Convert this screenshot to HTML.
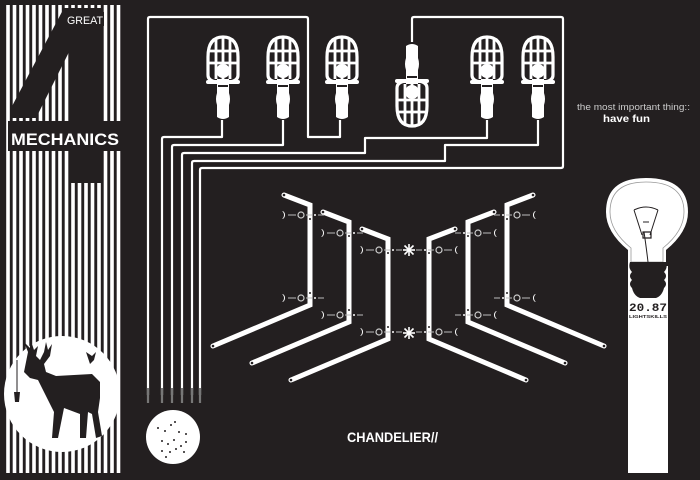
<!DOCTYPE html>
<html><head><meta charset="utf-8"><style>
html,body{margin:0;padding:0;background:#231f20;}
svg{display:block;}
</style></head><body>
<svg width="700" height="480" viewBox="0 0 700 480" xmlns="http://www.w3.org/2000/svg">
<defs>
<pattern id="st" x="5" y="0" width="6.5" height="10" patternUnits="userSpaceOnUse">
<rect x="1.2" y="0" width="3.6" height="10" fill="#fff"/>
</pattern>
<g id="lamp">
<path d="M-15,-22 Q-15,-42 0,-42 Q15,-42 15,-22 L15,-4 Q15,2 6,3 L-6,3 Q-15,2 -15,-4 Z" fill="none" stroke="#fff" stroke-width="3.2"/>
<path d="M-7,-40 V0 M0,-42 V0 M7,-40 V0 M-15,-28 H15 M-15,-16 H15" stroke="#fff" stroke-width="2.8"/>
<rect x="-17" y="1" width="34" height="4" rx="2" fill="#fff"/>
<circle cx="0" cy="-8" r="7" fill="#fff"/>
<path d="M-6,0 L-6,14 Q-8,20 -6,26 L-6,38 Q0,42 6,38 L6,26 Q8,20 6,14 L6,0 Z" fill="#fff"/>
<rect x="-5" y="6" width="10" height="2" fill="#231f20"/>
</g>
<g id="br">
<path d="M0,0 L26,10 L26,110 L-71,151" fill="none" stroke="#fff" stroke-width="5" stroke-linejoin="miter" stroke-linecap="round"/>
<circle cx="0" cy="0" r="1.3" fill="#231f20"/>
<circle cx="-71" cy="151" r="1.3" fill="#231f20"/>
<circle cx="26" cy="24" r="1" fill="#231f20"/><circle cx="26" cy="98" r="1" fill="#231f20"/>
</g>
<g id="conn">
<path d="M-4,-4 A5,5 0 0 1 -4,4 A3,4 0 0 0 -4,-4 Z" fill="#fff"/>
<line x1="2" y1="0" x2="10" y2="0" stroke="#bbb" stroke-width="1"/>
<circle cx="15" cy="0" r="3" fill="none" stroke="#ccc" stroke-width="1.2"/>
<line x1="20" y1="0" x2="26" y2="0" stroke="#bbb" stroke-width="1"/>
<circle cx="29" cy="0" r="1" fill="#fff"/>
<line x1="32" y1="0" x2="38" y2="0" stroke="#bbb" stroke-width="1"/>
</g>
<g id="ast" stroke="#fff" stroke-width="1.6">
<line x1="-6" y1="0" x2="6" y2="0"/><line x1="0" y1="-6" x2="0" y2="6"/>
<line x1="-4.5" y1="-4.5" x2="4.5" y2="4.5"/><line x1="-4.5" y1="4.5" x2="4.5" y2="-4.5"/>
</g>
</defs>

<!-- left panel -->
<rect x="5" y="5" width="117" height="468" fill="url(#st)"/>
<!-- the 4 -->
<rect x="70" y="8" width="33" height="175" fill="#231f20"/>
<polygon points="64,8 70,8 70,50 36,118 10,118 10,110" fill="#231f20"/>
<rect x="8" y="121" width="114" height="30" fill="#231f20"/>
<text x="11" y="145" font-family="Liberation Sans, sans-serif" font-weight="bold" font-size="17" fill="#fff" textLength="108" lengthAdjust="spacingAndGlyphs">MECHANICS</text>
<rect x="66" y="12" width="38" height="14" fill="#231f20"/>
<text x="67" y="24" font-family="Liberation Sans, sans-serif" font-size="11" fill="#fff" textLength="36" lengthAdjust="spacingAndGlyphs">GREAT</text>

<!-- deer circle -->
<circle cx="62" cy="394" r="58" fill="#fff"/>
<path d="M28,352 L24,342 L30,348 L30,338 L34,350 L38,346 L36,356 L40,360 L44,352 L46,342 L48,350 L52,344 L50,356 L44,364 L46,372 L56,376 L92,374 L100,382 L100,398 L98,412 L102,436 L96,438 L92,414 L88,412 L86,438 L80,438 L80,414 L64,408 L58,438 L52,438 L54,412 L46,396 L38,380 L30,378 L24,372 L26,362 Z" fill="#231f20"/>
<path d="M86,352 l6,4 l4,-4 l-2,8 l-4,4 z" fill="#231f20"/>
<line x1="17" y1="360" x2="17" y2="392" stroke="#231f20" stroke-width="1"/>
<path d="M14,392 h6 l-1,10 h-4 z" fill="#231f20"/>

<!-- wires -->
<g fill="none" stroke="#fff" stroke-width="2.2" stroke-linejoin="round">
<path d="M148,395 V19 Q148,17 150,17 H306 Q308,17 308,19 V137 H340 V120"/>
<path d="M162,395 V139 Q162,137 164,137 H222 V120"/>
<path d="M172,395 V147 Q172,145 174,145 H283 V120"/>
<path d="M182,395 V155 Q182,153 184,153 H365 V138 H487 V120"/>
<path d="M192,395 V163 Q192,161 194,161 H445 V145 H538 V120"/>
<path d="M200,395 V170 Q200,168 202,168 H561 Q563,168 563,166 V19 Q563,17 561,17 H414 Q412,17 412,19 V42"/>
</g>
<g stroke="#777" stroke-width="2.2">
<line x1="148" y1="388" x2="148" y2="403"/><line x1="162" y1="388" x2="162" y2="403"/>
<line x1="172" y1="388" x2="172" y2="403"/><line x1="182" y1="388" x2="182" y2="403"/>
<line x1="192" y1="388" x2="192" y2="403"/><line x1="200" y1="388" x2="200" y2="403"/>
</g>

<!-- lamps -->
<use href="#lamp" transform="translate(223,79)"/>
<use href="#lamp" transform="translate(283,79)"/>
<use href="#lamp" transform="translate(342,79)"/>
<use href="#lamp" transform="translate(487,79)"/>
<use href="#lamp" transform="translate(538,79)"/>
<use href="#lamp" transform="translate(412,84) scale(1,-1)"/>

<!-- brackets -->
<use href="#br" transform="translate(284,195)"/>
<use href="#br" transform="translate(323,212)"/>
<use href="#br" transform="translate(362,229)"/>
<use href="#br" transform="translate(533,195) scale(-1,1)"/>
<use href="#br" transform="translate(494,212) scale(-1,1)"/>
<use href="#br" transform="translate(455,229) scale(-1,1)"/>
<!-- connectors -->
<use href="#conn" transform="translate(286,215)"/>
<use href="#conn" transform="translate(325,233)"/>
<use href="#conn" transform="translate(364,250)"/>
<use href="#conn" transform="translate(286,298)"/>
<use href="#conn" transform="translate(325,315)"/>
<use href="#conn" transform="translate(364,332)"/>
<use href="#conn" transform="translate(532,215) scale(-1,1)"/>
<use href="#conn" transform="translate(493,233) scale(-1,1)"/>
<use href="#conn" transform="translate(454,250) scale(-1,1)"/>
<use href="#conn" transform="translate(532,298) scale(-1,1)"/>
<use href="#conn" transform="translate(493,315) scale(-1,1)"/>
<use href="#conn" transform="translate(454,332) scale(-1,1)"/>
<use href="#ast" transform="translate(409,250)"/>
<use href="#ast" transform="translate(409,333)"/>

<text x="347" y="442" font-family="Liberation Sans, sans-serif" font-weight="bold" font-size="14" fill="#fff" textLength="91" lengthAdjust="spacingAndGlyphs">CHANDELIER//</text>

<!-- dotted circle -->
<circle cx="173" cy="437" r="27" fill="#fff"/>
<g fill="#231f20">
<circle cx="158" cy="428" r="1"/><circle cx="165" cy="431" r="1"/><circle cx="171" cy="425" r="1"/><circle cx="175" cy="422" r="1"/><circle cx="179" cy="432" r="1"/><circle cx="186" cy="434" r="1"/><circle cx="162" cy="441" r="1"/><circle cx="168" cy="444" r="1"/><circle cx="174" cy="440" r="1"/><circle cx="181" cy="446" r="1"/><circle cx="162" cy="451" r="1"/><circle cx="170" cy="452" r="1"/><circle cx="176" cy="449" r="1"/><circle cx="184" cy="452" r="1"/><circle cx="166" cy="457" r="1"/><circle cx="186" cy="442" r="1"/>
</g>

<!-- text right -->
<text x="577" y="110" font-family="Liberation Sans, sans-serif" font-size="9.5" fill="#ccc" textLength="113" lengthAdjust="spacingAndGlyphs">the most important thing::</text>
<text x="603" y="122" font-family="Liberation Sans, sans-serif" font-weight="bold" font-size="10" fill="#fff" textLength="47" lengthAdjust="spacingAndGlyphs">have fun</text>

<!-- bulb -->
<path d="M628,266 L628,250 Q606,232 606,212 Q606,178 646,178 Q688,178 688,212 Q688,232 666,250 L666,266 Z" fill="#fff"/>
<path d="M631,262 L631,248 Q610,231 610,212 Q610,182 646,182 Q684,182 684,212 Q684,231 663,248 L663,262 Z" fill="none" stroke="#999" stroke-width="0.8"/>
<path d="M634,210 L642,235 M658,210 L650,235 M634,210 Q646,204 658,210 M643,222 h6 M644,232 Q646,245 648,262" fill="none" stroke="#231f20" stroke-width="1"/>
<path d="M643,232 h8 v6 h-8 z" fill="none" stroke="#231f20" stroke-width="1.2"/>
<rect x="628" y="266" width="40" height="207" fill="#fff"/>
<path d="M630,262 H666 Q668,268 664,272 Q668,276 664,280 Q668,284 664,288 Q662,296 656,298 H640 Q634,296 632,288 Q628,284 632,280 Q628,276 632,272 Q628,268 630,262 Z" fill="#231f20"/>
<text x="629" y="311" font-family="Liberation Mono, monospace" font-weight="bold" font-size="11" fill="#231f20" textLength="38" lengthAdjust="spacingAndGlyphs">20.87</text>
<text x="629" y="318" font-family="Liberation Sans, sans-serif" font-weight="bold" font-size="4.5" fill="#231f20" textLength="38" lengthAdjust="spacingAndGlyphs">LIGHTSKILLS</text>
</svg>
</body></html>
